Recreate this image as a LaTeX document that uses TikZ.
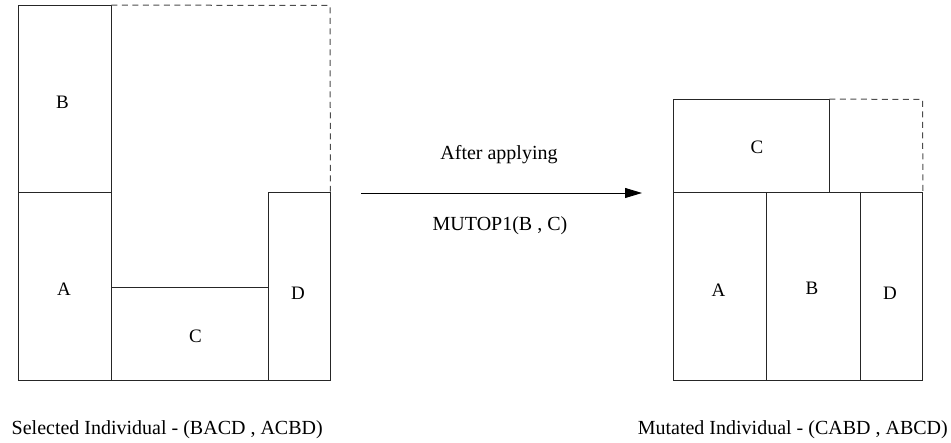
\documentclass[tikz,border=0pt]{standalone}
\usepackage{fontspec}
\setmainfont{Liberation Serif}
\usetikzlibrary{arrows.meta}
\begin{document}
\begin{tikzpicture}[x=1pt,y=-1pt,
  block/.style={draw=black!85,line width=0.9pt,inner sep=0pt},
  outline/.style={draw=black!70,line width=1pt,dash pattern=on 6pt off 4.5pt},
  lbl/.style={inner sep=0pt,font=\fontsize{19}{22}\selectfont},
  txt/.style={inner sep=0pt,font=\fontsize{20}{24}\selectfont}]
\useasboundingbox (0,0) rectangle (951,443);

% selected individual: B on A, C, D
\node[block,minimum width=93pt,minimum height=187pt] (lB) at (64.5,99) {};
\node[block,minimum width=93pt,minimum height=188pt] (lA) at (64.5,286) {};
\node[block,minimum width=157pt,minimum height=93pt] (lC) at (189.5,333.5) {};
\node[block,minimum width=62pt,minimum height=188pt] (lD) at (299,286) {};
\draw[outline] (lB.north east) -- (330,5.5) -- (lD.north east);
\node[lbl] (lBt) at (62.5,102.5) {B};
\node[lbl] (lAt) at (64,289) {A};
\node[lbl] (lCt) at (195.5,336.5) {C};
\node[lbl] (lDt) at (298,293) {D};

% operator arrow
\coordinate (as) at (361,193);
\coordinate (ae) at (642,193);
\draw[line width=0.9pt,-{Triangle[length=17pt,width=10pt]}] (as) -- (ae);
\node[txt] (t1) at (499,155) {After applying};
\node[txt] (t2) at (500,226) {MUTOP1(B , C)};

% mutated individual: C on A, B, D
\node[block,minimum width=156pt,minimum height=93pt] (rC) at (751,146) {};
\node[block,minimum width=93pt,minimum height=188pt] (rA) at (720,286) {};
\node[block,minimum width=94pt,minimum height=188pt] (rB) at (813.5,286) {};
\node[block,minimum width=62pt,minimum height=188pt] (rD) at (891.5,286) {};
\draw[outline] (rC.north east) -- (922.5,99.5) -- (rD.north east);
\node[lbl] (rCt) at (757,147) {C};
\node[lbl] (rAt) at (718.5,290) {A};
\node[lbl] (rBt) at (812,288.5) {B};
\node[lbl] (rDt) at (890,293) {D};

% captions
\node[txt,anchor=west] (c1) at (11.5,430) {Selected Individual - (BACD , ACBD)};
\node[txt,anchor=east] (c2) at (948,430) {Mutated Individual - (CABD , ABCD)};
\end{tikzpicture}
\end{document}
